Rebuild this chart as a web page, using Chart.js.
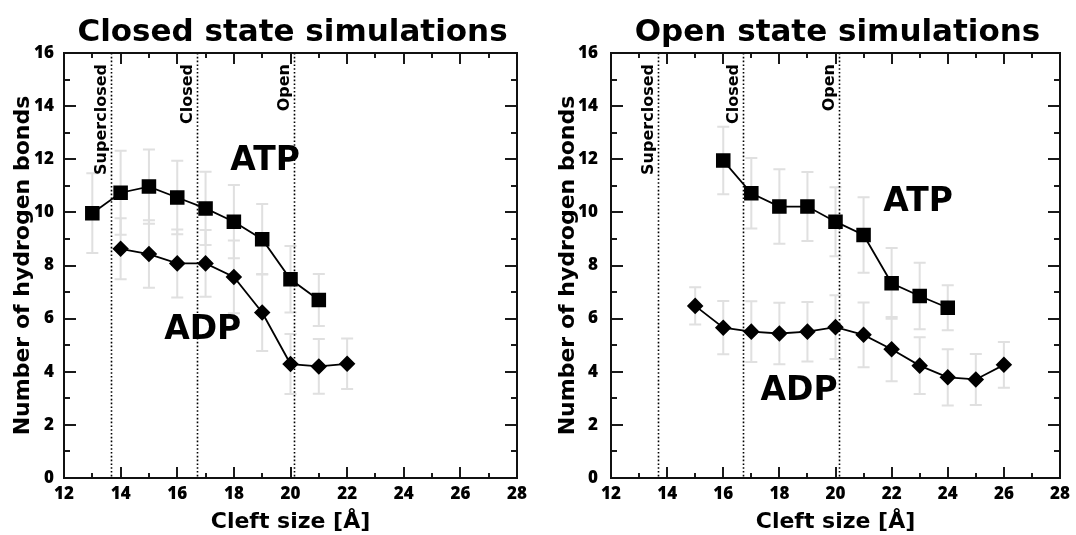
<!DOCTYPE html>
<html>
<head>
<meta charset="utf-8">
<script src="https://cdn.jsdelivr.net/npm/chart.js@4.4.1/dist/chart.umd.min.js"></script>
<style>
  html, body { margin: 0; padding: 0; background: #fff; }
  #wrap { display: flex; width: 1076px; height: 535px; }
  .box { position: relative; width: 538px; height: 535px; }
</style>
</head>
<body>
<div id="wrap">
  <div class="box"><canvas id="c1"></canvas></div>
  <div class="box"><canvas id="c2"></canvas></div>
</div>
<script>
// ---------------- DATA ----------------
const closedTitle = "Closed state simulations";
const openTitle = "Open state simulations";
const xAxisTitle = "Cleft size [Å]";
const yAxisTitle = "Number of hydrogen bonds";

const closedAtpX   = [13, 14, 15, 16, 17, 18, 19, 20, 21];
const closedAtpY   = [9.97, 10.74, 10.97, 10.56, 10.15, 9.65, 8.99, 7.48, 6.70];
const closedAtpErr = [1.50, 1.58, 1.40, 1.38, 1.38, 1.38, 1.33, 1.25, 0.98];
const closedAdpX   = [14, 15, 16, 17, 18, 19, 20, 21, 22];
const closedAdpY   = [8.63, 8.43, 8.08, 8.08, 7.57, 6.23, 4.29, 4.20, 4.30];
const closedAdpErr = [1.15, 1.27, 1.28, 1.26, 1.37, 1.45, 1.13, 1.03, 0.95];

const openAtpX   = [16, 17, 18, 19, 20, 21, 22, 23, 24];
const openAtpY   = [11.95, 10.72, 10.22, 10.22, 9.65, 9.15, 7.33, 6.85, 6.41];
const openAtpErr = [1.27, 1.33, 1.40, 1.30, 1.30, 1.42, 1.33, 1.25, 0.85];
const openAdpX   = [15, 16, 17, 18, 19, 20, 21, 22, 23, 24, 25, 26];
const openAdpY   = [6.48, 5.66, 5.51, 5.44, 5.51, 5.68, 5.39, 4.85, 4.23, 3.79, 3.71, 4.26];
const openAdpErr = [0.70, 1.00, 1.14, 1.16, 1.12, 1.20, 1.22, 1.21, 1.07, 1.06, 0.96, 0.86];

const stateNames = ["Superclosed", "Closed", "Open"];
const stateCleft = [13.66, 16.70, 20.12];

const xMin = 12, xMax = 28, xStep = 2;
const yMin = 0, yMax = 16, yStep = 2;

// annotation text anchors (data coords)
const closedLabelPos = { ATP: [19.1, 11.9], ADP: [16.9, 5.55] };
const openLabelPos   = { ATP: [22.94, 10.38], ADP: [18.7, 3.25] };

// ---------------- STYLE ----------------
const WORD_FONT = '"DejaVu Sans", "Liberation Sans", sans-serif';
const NUM_FONT = '"Open Sans", "DejaVu Sans", sans-serif';

function pts(xs, ys) { return xs.map((x, i) => ({ x: x, y: ys[i] })); }

const overlay = {
  id: 'overlay',
  beforeDatasetsDraw(chart, args, o) {
    const { ctx, chartArea: a, scales: { x, y } } = chart;
    ctx.save();
    // error bars
    ctx.strokeStyle = '#e0e0e0';
    ctx.lineWidth = 2;
    chart.data.datasets.forEach(ds => {
      ds.data.forEach((p, i) => {
        const e = ds.err[i];
        const px = x.getPixelForValue(p.x);
        const t = y.getPixelForValue(p.y + e), b = y.getPixelForValue(p.y - e);
        ctx.beginPath();
        ctx.moveTo(px, t); ctx.lineTo(px, b);
        ctx.moveTo(px - 6, t); ctx.lineTo(px + 6, t);
        ctx.moveTo(px - 6, b); ctx.lineTo(px + 6, b);
        ctx.stroke();
      });
    });
    // dotted state lines + labels
    ctx.strokeStyle = '#000';
    ctx.lineWidth = 1.6;
    ctx.setLineDash([1.6, 2.2]);
    stateCleft.forEach((v, i) => {
      const px = Math.round(x.getPixelForValue(v)) + 0.5;
      ctx.beginPath(); ctx.moveTo(px, a.top); ctx.lineTo(px, a.bottom); ctx.stroke();
    });
    ctx.setLineDash([]);
    ctx.fillStyle = '#000';
    ctx.font = 'bold 16px ' + WORD_FONT;
    ctx.textAlign = 'right';
    ctx.textBaseline = 'alphabetic';
    stateCleft.forEach((v, i) => {
      const px = x.getPixelForValue(v);
      ctx.save();
      ctx.translate(px - 5, a.top + 11);
      ctx.rotate(-Math.PI / 2);
      ctx.fillText(stateNames[i], 0, 0);
      ctx.restore();
    });
    ctx.restore();
  },
  afterDraw(chart, args, o) {
    const { ctx, chartArea: a, scales: { x, y } } = chart;
    ctx.save();
    // inward ticks on all four sides
    ctx.strokeStyle = '#1a1a1a';
    ctx.lineWidth = 2;
    ctx.beginPath();
    for (let v = xMin + 1; v < xMax; v++) {
      const px = Math.round(x.getPixelForValue(v));
      const L = (v % 2 === 0) ? 11 : 5;
      ctx.moveTo(px, a.bottom); ctx.lineTo(px, a.bottom - L);
      ctx.moveTo(px, a.top); ctx.lineTo(px, a.top + L);
    }
    for (let v = yMin + 1; v < yMax; v++) {
      const py = Math.round(y.getPixelForValue(v));
      const L = (v % 2 === 0) ? 12 : 6;
      ctx.moveTo(a.left, py); ctx.lineTo(a.left + L, py);
      ctx.moveTo(a.right, py); ctx.lineTo(a.right - L, py);
    }
    ctx.stroke();
    // frame
    ctx.strokeStyle = '#111';
    ctx.lineWidth = 2;
    ctx.strokeRect(a.left, a.top, a.right - a.left, a.bottom - a.top);
    // chart title
    ctx.fillStyle = '#000';
    ctx.font = 'bold 31px ' + WORD_FONT;
    ctx.textAlign = 'center';
    ctx.textBaseline = 'alphabetic';
    ctx.fillText(o.title, (a.left + a.right) / 2 + 2, 41);
    // ATP / ADP labels
    ctx.font = 'bold 33px ' + WORD_FONT;
    ctx.textBaseline = 'middle';
    Object.keys(o.labels).forEach(k => {
      const p = o.labels[k];
      ctx.fillText(k, x.getPixelForValue(p[0]), y.getPixelForValue(p[1]));
    });
    ctx.restore();
  }
};

function makeChart(id, atpX, atpY, atpErr, adpX, adpY, adpErr, title, labels, yAxisW, yTickPad, yTitlePad, padRight) {
  return new Chart(document.getElementById(id), {
    type: 'line',
    data: {
      datasets: [
        {
          label: 'ATP', data: pts(atpX, atpY), err: atpErr,
          borderColor: '#000', backgroundColor: '#000', borderWidth: 1.8,
          pointStyle: 'rect', pointRadius: 9, pointHoverRadius: 9, tension: 0
        },
        {
          label: 'ADP', data: pts(adpX, adpY), err: adpErr,
          borderColor: '#000', backgroundColor: '#000', borderWidth: 1.8,
          pointStyle: 'rectRot', pointRadius: 7, pointHoverRadius: 7, tension: 0
        }
      ]
    },
    options: {
      responsive: true,
      maintainAspectRatio: false,
      animation: false,
      events: [],
      layout: { padding: { left: 0, right: padRight, top: 53, bottom: 0 } },
      plugins: {
        legend: { display: false },
        tooltip: { enabled: false },
        overlay: { title: title, labels: labels }
      },
      scales: {
        x: {
          type: 'linear', min: xMin, max: xMax,
          grid: { display: false, drawTicks: false },
          border: { display: false },
          ticks: { stepSize: xStep, padding: 6, color: '#000', maxRotation: 0,
                   font: { family: NUM_FONT, size: 17, weight: 800 } },
          title: { display: true, text: xAxisTitle, color: '#000',
                   font: { family: WORD_FONT, size: 22, weight: 'bold' },
                   padding: { top: 0, bottom: 0 } },
          afterFit: s => { s.height = 57; }
        },
        y: {
          type: 'linear', min: yMin, max: yMax,
          grid: { display: false, drawTicks: false },
          border: { display: false },
          ticks: { stepSize: yStep, padding: yTickPad, color: '#000',
                   font: { family: NUM_FONT, size: 17, weight: 800 } },
          title: { display: true, text: yAxisTitle, color: '#000',
                   font: { family: WORD_FONT, size: 22, weight: 'bold' },
                   padding: { top: yTitlePad, bottom: 0 } },
          afterFit: s => { s.width = yAxisW; }
        }
      }
    },
    plugins: [overlay]
  });
}

makeChart('c1', closedAtpX, closedAtpY, closedAtpErr, closedAdpX, closedAdpY, closedAdpErr,
          closedTitle, closedLabelPos, 64, 10, 10, 21);
makeChart('c2', openAtpX, openAtpY, openAtpErr, openAdpX, openAdpY, openAdpErr,
          openTitle, openLabelPos, 73, 13, 17, 16);
</script>
</body>
</html>
